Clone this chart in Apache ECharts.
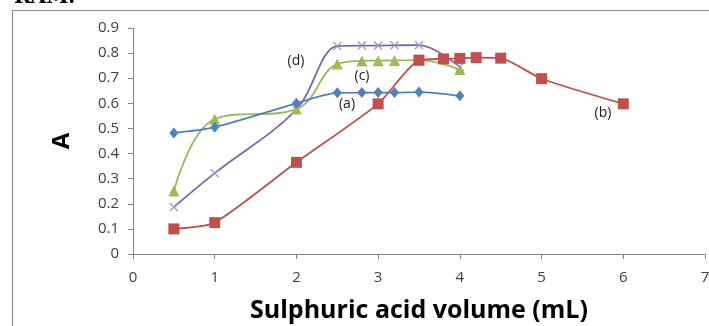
<!DOCTYPE html>
<html><head><meta charset="utf-8">
<script src="https://cdn.jsdelivr.net/npm/echarts@6/dist/echarts.min.js"></script>
<style>html,body{margin:0;padding:0;background:#fff;}#c{width:709px;height:326px;}</style>
</head><body><div id="c"></div>
<script>
const xTicks = [0,1,2,3,4,5,6,7];
const yTicks = [0,0.1,0.2,0.3,0.4,0.5,0.6,0.7,0.8,0.9];
const xA = [0.5,1,2,2.5,2.8,3,3.2,3.5,4];
const yA = [0.482,0.505,0.60,0.642,0.643,0.643,0.643,0.645,0.63];
const xB = [0.5,1,2,3,3.5,3.8,4,4.2,4.5,5,6];
const yB = [0.10,0.125,0.365,0.598,0.772,0.777,0.779,0.782,0.780,0.698,0.598];
const xC = [0.5,1,2,2.5,2.8,3,3.2,3.5,4];
const yC = [0.251,0.537,0.577,0.757,0.769,0.770,0.771,0.772,0.735];
const xD = [0.5,1,2,2.5,2.8,3,3.2,3.5,4];
const yD = [0.187,0.322,0.575,0.828,0.830,0.830,0.831,0.832,0.745];
const seriesLabels = ['(a)','(b)','(c)','(d)'];
const xTitle = 'Sulphuric acid volume (mL)';
const yTitle = 'A';

const pair = (xs, ys) => xs.map((x,i)=>[x, ys[i]]);
const chart = echarts.init(document.getElementById('c'), null, {renderer:'canvas'});
const font = '"Open Sans", "DejaVu Sans", sans-serif';
const cross = 'path://M0,1L1,0L5,4L9,0L10,1L6,5L10,9L9,10L5,6L1,10L0,9L4,5Z';
chart.setOption({
  animation:false,
  grid:{left:133,right:4,top:28,bottom:72,containLabel:false,outerBoundsMode:'none'},
  xAxis:{type:'value',min:0,max:7,interval:1,
    axisLine:{lineStyle:{color:'#868686'}},
    axisTick:{show:true,length:5,lineStyle:{color:'#868686'}},
    splitLine:{show:false},
    axisLabel:{color:'#404040',fontSize:15,fontFamily:font,margin:16,
      formatter:v=>xTicks.includes(v)?String(v):''},
    name:xTitle,nameLocation:'middle',nameGap:44,
    nameTextStyle:{fontSize:25,fontWeight:'bold',color:'#000',fontFamily:font}},
  yAxis:{type:'value',min:0,max:0.9,interval:0.1,
    axisLine:{show:true,lineStyle:{color:'#868686'}},
    axisTick:{show:true,length:5,lineStyle:{color:'#868686'}},
    splitLine:{show:false},
    axisLabel:{color:'#404040',fontSize:15,fontFamily:font,margin:14,
      formatter:v=>{const t=yTicks.find(k=>Math.abs(k-v)<1e-6);return t===undefined?'':(t===0?'0':t.toFixed(1));}},
    name:yTitle,nameLocation:'middle',nameGap:59,nameRotate:90,
    nameTextStyle:{fontSize:24,fontWeight:'bold',color:'#000',fontFamily:font}},
  series:[
    {type:'line',data:pair(xA,yA),smooth:0.3,symbol:'diamond',symbolSize:[9,11],
      lineStyle:{color:'#4F81BD',width:1.8},itemStyle:{color:'#4F81BD'},z:3},
    {type:'line',data:pair(xB,yB),smooth:0.2,symbol:'rect',symbolSize:11,
      lineStyle:{color:'#C0504D',width:1.8},itemStyle:{color:'#C0504D'},z:4},
    {type:'line',data:pair(xC,yC),smooth:0.4,symbol:'triangle',symbolSize:11,
      lineStyle:{color:'#9BBB59',width:1.8},itemStyle:{color:'#9BBB59'},z:2},
    {type:'line',data:pair(xD,yD),smooth:0.35,symbol:cross,symbolSize:9,
      lineStyle:{color:'#8064A2',width:1.8},itemStyle:{color:'#A594C4'},z:1}
  ],
  graphic:[
    {type:'rect',shape:{x:12.5,y:10.5,width:720,height:340},style:{fill:'none',stroke:'#8c8c8c',lineWidth:1.2},silent:true},
    {type:'text',left:14,top:-12,style:{text:'RAM.',font:'bold 20px "DejaVu Serif", "Liberation Serif", serif',fill:'#000'}},
    {type:'text',x:347,y:104,style:{text:seriesLabels[0],font:'14px '+font,fill:'#222',textAlign:'center',textVerticalAlign:'middle'}},
    {type:'text',x:603,y:113,style:{text:seriesLabels[1],font:'14px '+font,fill:'#222',textAlign:'center',textVerticalAlign:'middle'}},
    {type:'text',x:362,y:76,style:{text:seriesLabels[2],font:'14px '+font,fill:'#222',textAlign:'center',textVerticalAlign:'middle'}},
    {type:'text',x:296,y:61,style:{text:seriesLabels[3],font:'14px '+font,fill:'#222',textAlign:'center',textVerticalAlign:'middle'}}
  ]
});
</script></body></html>
